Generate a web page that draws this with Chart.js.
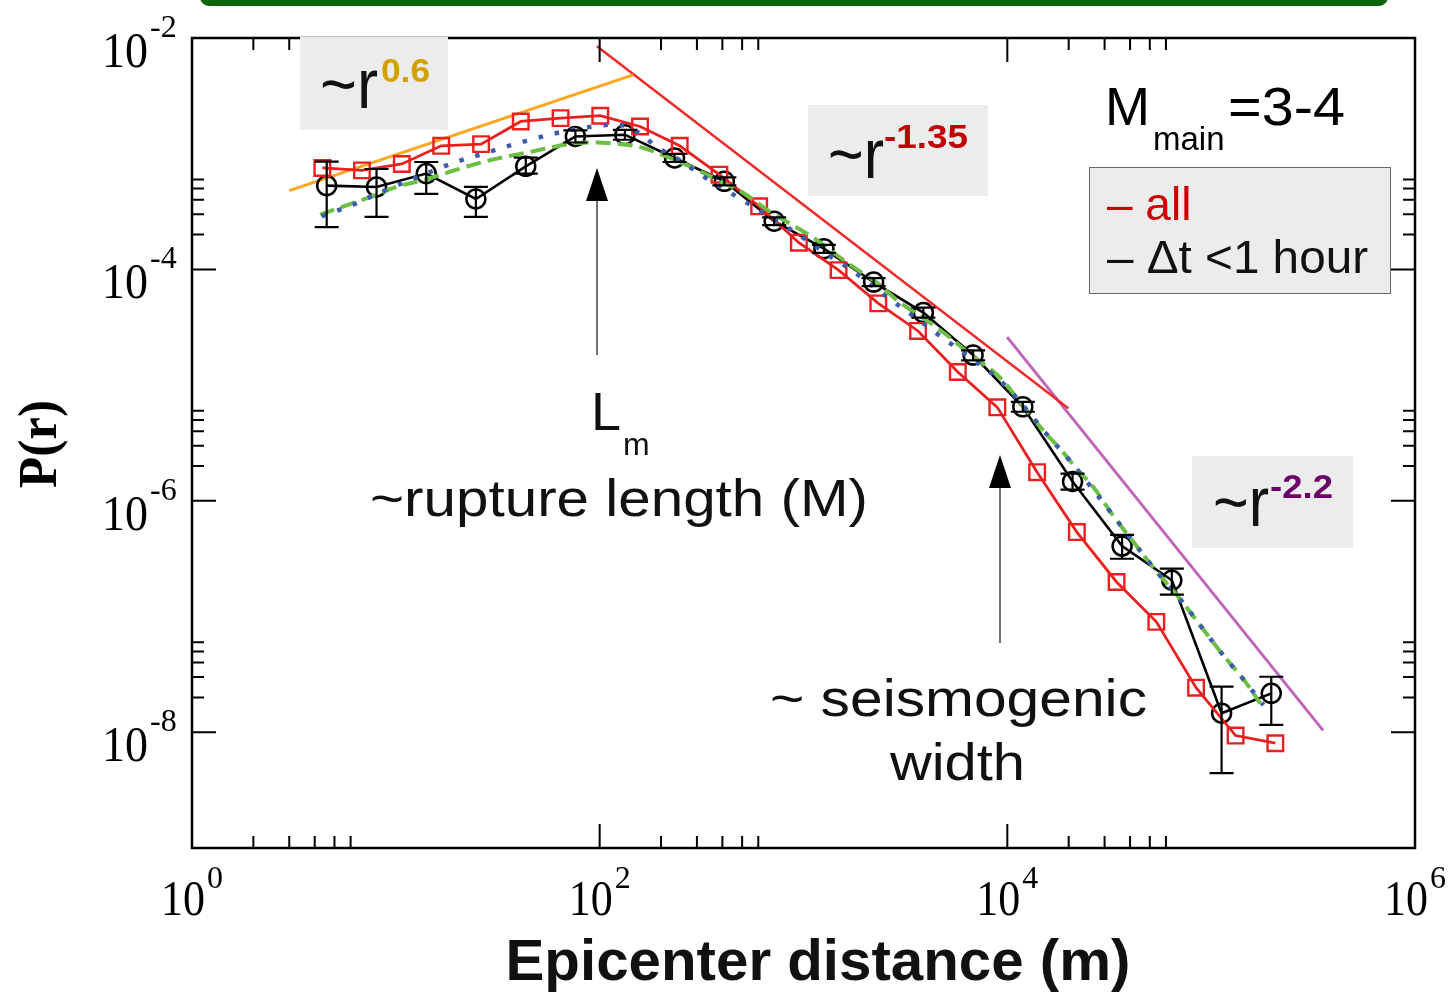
<!DOCTYPE html>
<html><head><meta charset="utf-8">
<script src="https://cdn.jsdelivr.net/npm/chart.js@4.4.1/dist/chart.umd.min.js"></script>
<style>html,body{margin:0;padding:0;background:#fff;overflow:hidden}</style>
</head><body>
<canvas id="c" width="1454" height="992" style="width:1454px;height:992px;display:block"></canvas>
<script>
// ---------- data ----------
const xAll = [4.36, 6.82, 10.7, 16.7, 26.2, 41.0, 64.3, 100.7, 157.8, 247, 387, 606, 949, 1486, 2328, 3648, 5715, 8933, 14000, 21930, 34360, 53830, 84330, 131800, 206500];
const pAll = [7.53e-4, 7.18e-4, 8.15e-4, 1.17e-3, 1.21e-3, 1.90e-3, 2.03e-3, 2.13e-3, 1.72e-3, 1.17e-3, 6.59e-4, 3.51e-4, 1.70e-4, 9.86e-5, 5.09e-5, 2.94e-5, 1.30e-5, 6.43e-6, 1.77e-6, 5.37e-7, 1.99e-7, 9.0e-8, 2.43e-8, 9.37e-9, 8.04e-9];

const xDt = [4.58, 8.04, 14.1, 24.7, 43.4, 76.0, 133, 233, 409, 718, 1259, 2208, 3873, 6792, 11910, 20890, 36560, 64120, 112500, 197200];
const pDt = [5.3e-4, 5.16e-4, 6.73e-4, 4.06e-4, 7.78e-4, 1.41e-3, 1.46e-3, 9.18e-4, 5.77e-4, 2.61e-4, 1.51e-4, 7.78e-5, 4.24e-5, 1.82e-5, 6.5e-6, 1.47e-6, 4.07e-7, 2.06e-7, 1.46e-8, 2.17e-8];
const errHiDt = [8.53e-4, 7.38e-4, 8.48e-4, 5.16e-4, 9.24e-4, 1.59e-3, 1.61e-3, 9.94e-4, 6.25e-4, 2.82e-4, 1.63e-4, 8.42e-5, 4.68e-5, 2.0e-5, 7.18e-6, 1.72e-6, 5.09e-7, 2.6e-7, 2.48e-8, 3.02e-8];
const errLoDt = [2.32e-4, 2.85e-4, 4.49e-4, 2.85e-4, 6.73e-4, 1.25e-3, 1.32e-3, 8.48e-4, 5.33e-4, 2.41e-4, 1.39e-4, 7.18e-5, 3.84e-5, 1.64e-5, 5.89e-6, 1.25e-6, 3.16e-7, 1.55e-7, 4.44e-9, 1.16e-8];

const xBlue = [4.33, 6.17, 9.02, 13.1, 19.1, 28.3, 41.5, 61.6, 93.1, 114.7, 138.3, 163.9, 194, 230, 323, 453, 648, 917, 1276, 1791, 2466, 3461, 4680, 6570, 9045, 11780, 15330, 19940, 25490, 32570, 41570, 54160, 69130, 88310, 112800, 146900, 180600];
const pBlue = [2.88e-4, 3.63e-4, 4.90e-4, 6.37e-4, 8.32e-4, 1.03e-3, 1.26e-3, 1.51e-3, 1.72e-3, 1.78e-3, 1.72e-3, 1.41e-3, 1.12e-3, 9.48e-4, 6.37e-4, 4.43e-4, 3.02e-4, 2.07e-4, 1.39e-4, 9.37e-5, 6.09e-5, 3.96e-5, 2.66e-5, 1.73e-5, 1.13e-5, 6.86e-6, 3.91e-6, 2.30e-6, 1.35e-6, 7.72e-7, 4.41e-7, 2.43e-7, 1.48e-7, 8.41e-8, 4.80e-8, 2.74e-8, 1.72e-8];

const xGreen = [4.25, 7.62, 10.5, 13.6, 19.9, 29.0, 47.3, 61.6, 77.2, 96.8, 121.3, 152, 183.4, 221.5, 277.7, 389.8, 507.1, 699, 876, 1118, 1483, 1826, 2289, 2979, 3734, 4860, 6570, 9219, 12460, 15030, 18160, 21930, 26460, 32570, 41570, 54160, 69130, 88310, 112800, 146900, 173900];
const pGreen = [2.98e-4, 4.28e-4, 5.30e-4, 5.89e-4, 7.28e-4, 8.79e-4, 1.05e-3, 1.16e-3, 1.24e-3, 1.25e-3, 1.22e-3, 1.16e-3, 1.05e-3, 9.18e-4, 7.77e-4, 5.77e-4, 4.58e-4, 3.08e-4, 2.44e-4, 1.88e-4, 1.30e-4, 1.00e-4, 7.68e-5, 5.16e-5, 3.96e-5, 2.85e-5, 1.85e-5, 1.16e-5, 6.0e-6, 4.04e-6, 2.81e-6, 1.89e-6, 1.31e-6, 7.72e-7, 4.41e-7, 2.43e-7, 1.48e-7, 8.41e-8, 4.80e-8, 2.74e-8, 1.78e-8];

const xLaw06 = [3.0, 146];      const pLaw06 = [4.8e-4, 4.8e-3];
const xLaw135 = [97, 19900];    const pLaw135 = [8.5e-3, 6.3e-6];
const xLaw22 = [9980, 354000];  const pLaw22 = [2.6e-5, 1.04e-8];

const xMajorTicks = [1, 100, 1e4, 1e6];
const xMajorExp = ['0', '2', '4', '6'];
const xMinorTicks = [2, 3, 4, 5, 6, 200, 300, 400, 500, 600, 2e4, 3e4, 4e4, 5e4, 6e4];
const yMajorTicks = [1e-2, 1e-4, 1e-6, 1e-8];
const yMajorExp = ['-2', '-4', '-6', '-8'];
const yMinorTicks = [2e-4, 3e-4, 4e-4, 5e-4, 6e-4, 2e-6, 3e-6, 4e-6, 5e-6, 6e-6, 2e-8, 3e-8, 4e-8, 5e-8, 6e-8];

const seriesNames = ['all', 'Δt <1 hour'];

// ---------- helpers ----------
const pts = (xs, ys) => xs.map((x, i) => ({x: x, y: ys[i]}));

function txt(ctx, s, x, y, size, o) {
  o = o || {};
  ctx.save();
  ctx.font = (o.weight || 'normal') + ' ' + size + 'px ' + (o.family || '"Liberation Sans", Arial, sans-serif');
  ctx.fillStyle = o.color || '#111';
  ctx.textBaseline = 'alphabetic';
  ctx.textAlign = 'left';
  const m = ctx.measureText(s).width;
  const sx = o.w ? o.w / m : 1;
  const W = m * sx;
  let left = x;
  if (o.align === 'center') left = x - W / 2;
  else if (o.align === 'right') left = x - W;
  ctx.translate(left, y);
  ctx.scale(sx, 1);
  ctx.fillText(s, 0, 0);
  ctx.restore();
}

function arrow(ctx, x, yTip, yEnd) {
  ctx.save();
  ctx.strokeStyle = '#444'; ctx.lineWidth = 1.5;
  ctx.beginPath(); ctx.moveTo(x, yTip + 30); ctx.lineTo(x, yEnd); ctx.stroke();
  ctx.fillStyle = '#000';
  ctx.beginPath(); ctx.moveTo(x, yTip); ctx.lineTo(x - 11, yTip + 33); ctx.lineTo(x + 11, yTip + 33); ctx.closePath(); ctx.fill();
  ctx.restore();
}

const errorBars = {
  id: 'errorBars',
  afterDatasetsDraw(chart) {
    const ctx = chart.ctx, xs = chart.scales.x, ys = chart.scales.y;
    ctx.save();
    ctx.strokeStyle = '#000'; ctx.lineWidth = 2.2;
    xDt.forEach((x, i) => {
      const px = xs.getPixelForValue(x);
      const y1 = ys.getPixelForValue(errHiDt[i]);
      const y2 = ys.getPixelForValue(errLoDt[i]);
      ctx.beginPath();
      ctx.moveTo(px, y1); ctx.lineTo(px, y2);
      ctx.moveTo(px - 12, y1); ctx.lineTo(px + 12, y1);
      ctx.moveTo(px - 12, y2); ctx.lineTo(px + 12, y2);
      ctx.stroke();
    });
    ctx.restore();
  }
};

const decor = {
  id: 'decor',
  afterDraw(chart) {
    const ctx = chart.ctx, xs = chart.scales.x, ys = chart.scales.y;
    const a = chart.chartArea;
    const serif = '"Liberation Serif", "Times New Roman", serif';
    ctx.save();
    // top green panel edge
    ctx.strokeStyle = '#0b650b'; ctx.lineWidth = 6;
    ctx.beginPath();
    if (ctx.roundRect) ctx.roundRect(203, -40, 1182, 43, 6); else ctx.rect(203, -40, 1182, 43);
    ctx.stroke();

    // frame
    ctx.strokeStyle = '#000'; ctx.lineWidth = 2.5;
    ctx.strokeRect(a.left, a.top, a.right - a.left, a.bottom - a.top);
    // ticks
    ctx.lineWidth = 2;
    ctx.beginPath();
    const tx = (v, len) => { const p = xs.getPixelForValue(v);
      ctx.moveTo(p, a.bottom); ctx.lineTo(p, a.bottom - len);
      ctx.moveTo(p, a.top); ctx.lineTo(p, a.top + len); };
    const ty = (v, len) => { const p = ys.getPixelForValue(v);
      ctx.moveTo(a.left, p); ctx.lineTo(a.left + len, p);
      ctx.moveTo(a.right, p); ctx.lineTo(a.right - len, p); };
    xMajorTicks.forEach(v => tx(v, 24));
    xMinorTicks.forEach(v => tx(v, 12));
    yMajorTicks.forEach(v => ty(v, 24));
    yMinorTicks.forEach(v => ty(v, 12));
    ctx.stroke();

    // tick labels
    xMajorTicks.forEach((v, i) => {
      const p = xs.getPixelForValue(v);
      txt(ctx, '10', p + 13, a.bottom + 67, 50, {family: serif, color: '#000', align: 'right', w: 44});
      txt(ctx, xMajorExp[i], p + 15, a.bottom + 40, 32, {family: serif, color: '#000'});
    });
    yMajorTicks.forEach((v, i) => {
      const p = ys.getPixelForValue(v);
      txt(ctx, '10', 148, p + 29, 50, {family: serif, color: '#000', w: 46, align: 'right'});
      txt(ctx, yMajorExp[i], 150, p - 1, 32, {family: serif, color: '#000'});
    });

    // axis titles
    txt(ctx, 'Epicenter distance (m)', 818, 980, 57, {weight: 'bold', color: '#111', align: 'center', w: 625});
    ctx.save();
    ctx.translate(56, 444); ctx.rotate(-Math.PI / 2);
    txt(ctx, 'P(r)', 0, 0, 54, {family: serif, weight: 'bold', color: '#000', align: 'center', w: 88});
    ctx.restore();

    // gray boxes with power-law labels
    ctx.fillStyle = '#ececec';
    ctx.fillRect(300, 37, 148, 93);
    ctx.fillRect(808, 105, 180, 91);
    ctx.fillRect(1192, 456, 161, 92);
    txt(ctx, '~r', 320, 108, 70, {color: '#111', w: 58});
    txt(ctx, '0.6', 381, 82, 33, {weight: 'bold', color: '#d4a000', w: 49});
    txt(ctx, '~r', 828, 178, 70, {color: '#111', w: 56});
    txt(ctx, '-1.35', 884, 148, 33, {weight: 'bold', color: '#c00000', w: 84});
    txt(ctx, '~r', 1213, 526, 70, {color: '#111', w: 56});
    txt(ctx, '-2.2', 1270, 498, 33, {weight: 'bold', color: '#6b006b', w: 63});

    // M_main
    txt(ctx, 'M', 1105, 125, 54, {color: '#000'});
    txt(ctx, 'main', 1153, 150, 33, {color: '#000'});
    txt(ctx, '=3-4', 1228, 125, 54, {color: '#000', w: 117});

    // legend box
    ctx.fillStyle = '#ececec'; ctx.fillRect(1089, 167, 301, 126);
    ctx.strokeStyle = '#666'; ctx.lineWidth = 1; ctx.strokeRect(1089.5, 167.5, 301, 126);
    txt(ctx, '– ' + seriesNames[0], 1107, 220, 46, {color: '#cc0000'});
    txt(ctx, '– ' + seriesNames[1], 1107, 273, 46, {color: '#111', w: 261});

    // arrows and texts
    arrow(ctx, 597, 168, 355);
    arrow(ctx, 1000, 455, 643);
    txt(ctx, 'L', 591, 430, 54, {color: '#111'});
    txt(ctx, 'm', 623, 455, 32, {color: '#111'});
    txt(ctx, '~rupture length (M)', 370, 516, 52, {color: '#111', w: 498});
    txt(ctx, '~ seismogenic', 770, 716, 52, {color: '#111', w: 377});
    txt(ctx, 'width', 890, 780, 52, {color: '#111', w: 135});
    ctx.restore();
  }
};

new Chart(document.getElementById('c'), {
  type: 'scatter',
  data: {
    datasets: [
      {label: 'fit dotted', data: pts(xBlue, pBlue), showLine: true, borderColor: '#3d5daa', borderWidth: 4.5, borderDash: [4.5, 12], pointRadius: 0, cubicInterpolationMode: 'monotone', order: 0},
      {label: 'fit dashed', data: pts(xGreen, pGreen), showLine: true, borderColor: '#6bbf45', borderWidth: 4, borderDash: [15, 7], pointRadius: 0, cubicInterpolationMode: 'monotone', order: 1},
      {label: seriesNames[1], data: pts(xDt, pDt), showLine: true, borderColor: '#000', borderWidth: 2.6, pointStyle: 'circle', pointRadius: 9.5, pointBorderWidth: 2.5, pointBorderColor: '#000', pointBackgroundColor: 'rgba(0,0,0,0)', order: 3},
      {label: seriesNames[0], data: pts(xAll, pAll), showLine: true, borderColor: '#ea2020', borderWidth: 2.8, pointStyle: 'rect', pointRadius: 11, pointBorderWidth: 2.4, pointBorderColor: '#ea2020', pointBackgroundColor: 'rgba(0,0,0,0)', order: 2},
      {label: 'r^0.6', data: pts(xLaw06, pLaw06), showLine: true, borderColor: '#ffa520', borderWidth: 3, pointRadius: 0, order: 4},
      {label: 'r^-1.35', data: pts(xLaw135, pLaw135), showLine: true, borderColor: '#ee2a2a', borderWidth: 2.5, pointRadius: 0, order: 4},
      {label: 'r^-2.2', data: pts(xLaw22, pLaw22), showLine: true, borderColor: '#c066b8', borderWidth: 3, pointRadius: 0, order: 4}
    ]
  },
  options: {
    responsive: false, animation: false, devicePixelRatio: 1,
    layout: {padding: {left: 192, right: 39, top: 38, bottom: 144}},
    plugins: {legend: {display: false}, tooltip: {enabled: false}},
    scales: {
      x: {type: 'logarithmic', min: 1, max: 1e6, display: false},
      y: {type: 'logarithmic', min: 1e-9, max: 1e-2, display: false}
    }
  },
  plugins: [errorBars, decor]
});
</script>
</body></html>
